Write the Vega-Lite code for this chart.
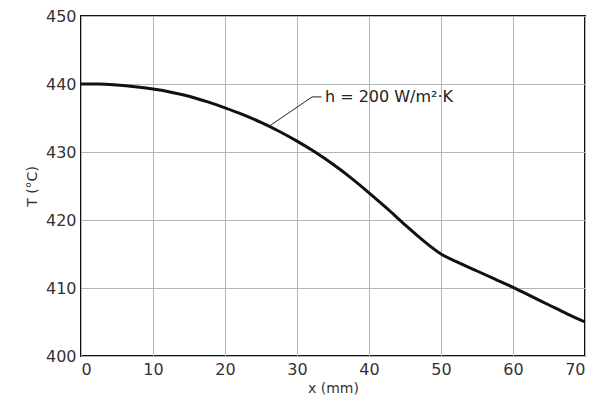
{
  "$schema": "https://vega.github.io/schema/vega-lite/v6.json",
  "width": 504,
  "height": 340,
  "autosize": {"type": "none"},
  "padding": {"left": 81, "top": 16, "right": 11, "bottom": 46},
  "background": "white",
  "config": {
    "view": {"stroke": "#111", "strokeWidth": 2},
    "font": "DejaVu Sans",
    "axis": {
      "domain": false,
      "ticks": false,
      "labelFontSize": 16,
      "labelColor": "#333",
      "titleFontSize": 14,
      "titleFontWeight": "normal",
      "titleColor": "#333",
      "gridColor": "#b5b5b5",
      "gridWidth": 1
    }
  },
  "datasets": {
    "curve": [
      {"x": 0, "T": 440.0}, {"x": 2.5, "T": 440.0}, {"x": 5, "T": 439.85}, {"x": 7.5, "T": 439.6},
      {"x": 10, "T": 439.25}, {"x": 12.5, "T": 438.8}, {"x": 15, "T": 438.2}, {"x": 17.5, "T": 437.4},
      {"x": 20, "T": 436.5}, {"x": 22.5, "T": 435.5}, {"x": 25, "T": 434.35}, {"x": 27.5, "T": 433.05},
      {"x": 30, "T": 431.6}, {"x": 32.5, "T": 430.0}, {"x": 35, "T": 428.2}, {"x": 37.5, "T": 426.2},
      {"x": 40, "T": 424.0}, {"x": 42.5, "T": 421.7}, {"x": 45, "T": 419.3}, {"x": 47.5, "T": 417.0},
      {"x": 50, "T": 415.0}, {"x": 52.5, "T": 413.7}, {"x": 55, "T": 412.5}, {"x": 57.5, "T": 411.3},
      {"x": 60, "T": 410.1}, {"x": 62.5, "T": 408.8}, {"x": 65, "T": 407.5}, {"x": 67.5, "T": 406.2},
      {"x": 70, "T": 405.0}
    ],
    "leader": [
      {"x": 26.0, "T": 433.7, "o": 1}, {"x": 32.1, "T": 438.1, "o": 2}, {"x": 33.4, "T": 438.1, "o": 3}
    ],
    "label": [
      {"x": 33.6, "T": 438.1, "text": "h = 200 W/m²·K"}
    ]
  },
  "layer": [
    {
      "data": {"name": "curve"},
      "mark": {"type": "line", "color": "#111", "strokeWidth": 3, "interpolate": "monotone"},
      "encoding": {
        "x": {
          "field": "x", "type": "quantitative",
          "scale": {"domain": [0, 70], "nice": false},
          "axis": {"values": [0, 10, 20, 30, 40, 50, 60, 70], "title": "x (mm)", "titlePadding": 4, "labelPadding": 5}
        },
        "y": {
          "field": "T", "type": "quantitative",
          "scale": {"domain": [400, 450], "nice": false, "zero": false},
          "axis": {
            "values": [400, 405, 410, 415, 420, 425, 430, 435, 440, 445, 450],
            "labelExpr": "datum.value % 10 == 0 ? datum.label : ''",
            "title": "T (°C)", "titlePadding": 6, "labelPadding": 5
          }
        }
      }
    },
    {
      "data": {"name": "leader"},
      "mark": {"type": "line", "color": "#222", "strokeWidth": 1},
      "encoding": {
        "x": {"field": "x", "type": "quantitative"},
        "y": {"field": "T", "type": "quantitative"},
        "order": {"field": "o"}
      }
    },
    {
      "data": {"name": "label"},
      "mark": {"type": "text", "align": "left", "baseline": "middle", "fontSize": 16, "color": "#222", "dx": 2},
      "encoding": {
        "x": {"field": "x", "type": "quantitative"},
        "y": {"field": "T", "type": "quantitative"},
        "text": {"field": "text"}
      }
    }
  ]
}
